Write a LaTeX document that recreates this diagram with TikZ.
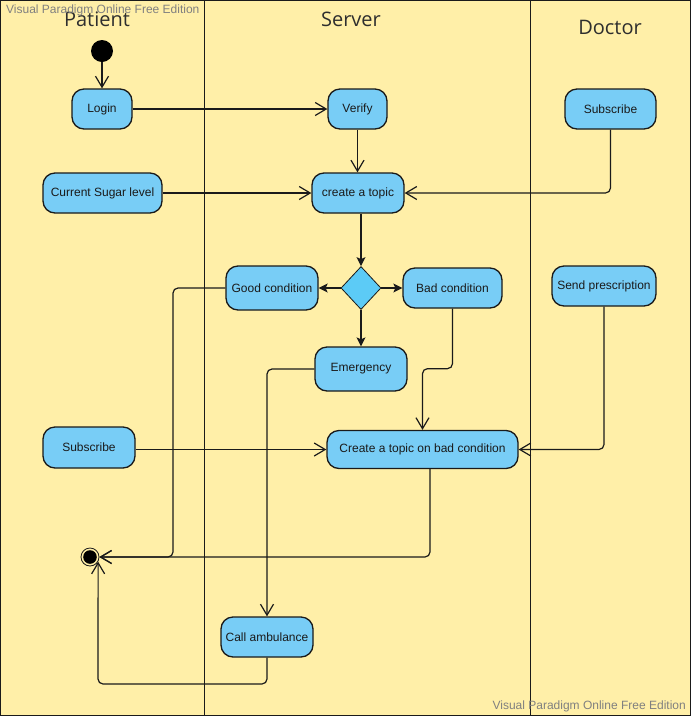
\documentclass[tikz,border=0pt]{standalone}
\usepackage{fontspec}
\setmainfont{Liberation Sans}
\newfontfamily\lanefont{Open Sans}
\usepackage{tikz}
\usetikzlibrary{arrows.meta,shapes.geometric}
\definecolor{Lane}{HTML}{FFEFA8}
\definecolor{Act}{HTML}{78CDF6}
\definecolor{Dec}{HTML}{5CCBF6}
\definecolor{Ink}{HTML}{1A1A1A}
\definecolor{Title}{HTML}{2E2E2E}
\definecolor{Mark}{HTML}{808080}

\begin{document}
\begin{tikzpicture}[x=1pt,y=-1pt,
    act/.style={draw=Ink,line width=1.3pt,fill=Act,rounded corners=12pt,
      minimum height=40pt,inner sep=0pt,text=Ink,font=\fontsize{12}{14}\selectfont},
    conn/.style={draw=Ink,line width=1.2pt,rounded corners=5pt,
      -{Straight Barb[length=11pt,width=13pt,line width=1.2pt]}},
    flow/.style={draw=Ink,line width=1.2pt,-{Stealth[length=9pt,width=9pt,inset=2pt]}},
    lanetitle/.style={font=\lanefont\fontsize{20}{24}\selectfont,text=Title},
    wmark/.style={font=\fontsize{12}{14}\selectfont,text=Mark,inner sep=0pt}]
  \useasboundingbox (0,0) rectangle (691,716);
  % swimlanes
  \fill[Lane] (0,0) rectangle (691,716);
  \draw[Ink,line width=1pt] (204,0) -- (204,715.5);
  \draw[Ink,line width=1pt] (530,0) -- (530,715.5);
  \draw[Ink,line width=1pt] (0.5,0.5) rectangle (690.5,715.5);
  \node[lanetitle] (tpat) at (97,19) {Patient};
  \node[lanetitle] (tsrv) at (351,19) {Server};
  \node[lanetitle] (tdoc) at (610,27) {Doctor};

  % activities
  \node[circle,fill=black,minimum size=22pt,inner sep=0pt] (start) at (102,51) {};
  \node[act,minimum width=60pt] (login) at (102,109) {Login};
  \node[act,minimum width=59pt] (verify) at (357.5,109) {Verify};
  \node[act,minimum width=91pt] (dsub) at (610.5,109) {Subscribe};
  \node[act,minimum width=119pt] (sugar) at (102.5,193) {Current Sugar level};
  \node[act,minimum width=92pt] (topic) at (358,193) {create a topic};
  \node[diamond,draw=Ink,line width=0.8pt,fill=Dec,minimum width=40pt,
    minimum height=43pt,inner sep=0pt] (dec) at (361,288) {};
  \node[act,minimum width=92pt,minimum height=44pt] (good) at (272,288) {Good condition};
  \node[act,minimum width=99pt] (bad) at (452.5,288) {Bad condition};
  \node[act,minimum width=104pt] (presc) at (604,286) {Send prescription};
  \node[act,minimum width=92pt,minimum height=44pt] (emerg) at (361,369) {Emergency};
  \node[act,minimum width=191pt,minimum height=38pt] (badtopic) at (422.5,449.5) {Create a topic on bad condition};
  \node[act,minimum width=92pt,minimum height=41pt] (psub) at (89,447.5) {Subscribe};
  \node[act,minimum width=92pt] (amb) at (267,637) {Call ambulance};
  \node[circle,draw=Ink,line width=0.8pt,minimum size=18pt,inner sep=0pt,
    path picture={\fill[black] (path picture bounding box.center) circle (6.8pt);}] (stop) at (90,557) {};

  % bends
  \coordinate (gbend) at (173,557);
  \coordinate (abend) at (98,684);

  % flows
  \draw[conn] (start) -- (login);
  \draw[conn] (login) -- (verify);
  \draw[conn] (verify) -- (verify |- topic.north);
  \draw[conn] (sugar) -- (topic);
  \draw[conn] (dsub.south) |- (topic.east);
  \draw[flow] (topic.south -| dec) -- (dec.north);
  \draw[flow] (dec) -- (good);
  \draw[flow] (dec) -- (bad);
  \draw[flow] (dec) -- (emerg);
  \draw[conn] (good.west) -| (gbend) -- (stop.east);
  \draw[conn] (emerg.west) -| (amb.north);
  \draw[conn] (bad.south) -- ++(0,60) -| (badtopic.north);
  \draw[conn] (psub.east |- badtopic) -- (badtopic.west);
  \draw[conn] (presc.south) |- (badtopic.east);
  \draw[conn] ([xshift=7.5pt]badtopic.south) |- (stop.east);
  \draw[conn] (amb.south) |- (abend) -- (stop.-30);

  % watermarks
  \node[wmark,anchor=north west] (wm1) at (6,5) {Visual Paradigm Online Free Edition};
  \node[wmark,anchor=south east] (wm2) at (686,712) {Visual Paradigm Online Free Edition};
\end{tikzpicture}
\end{document}
